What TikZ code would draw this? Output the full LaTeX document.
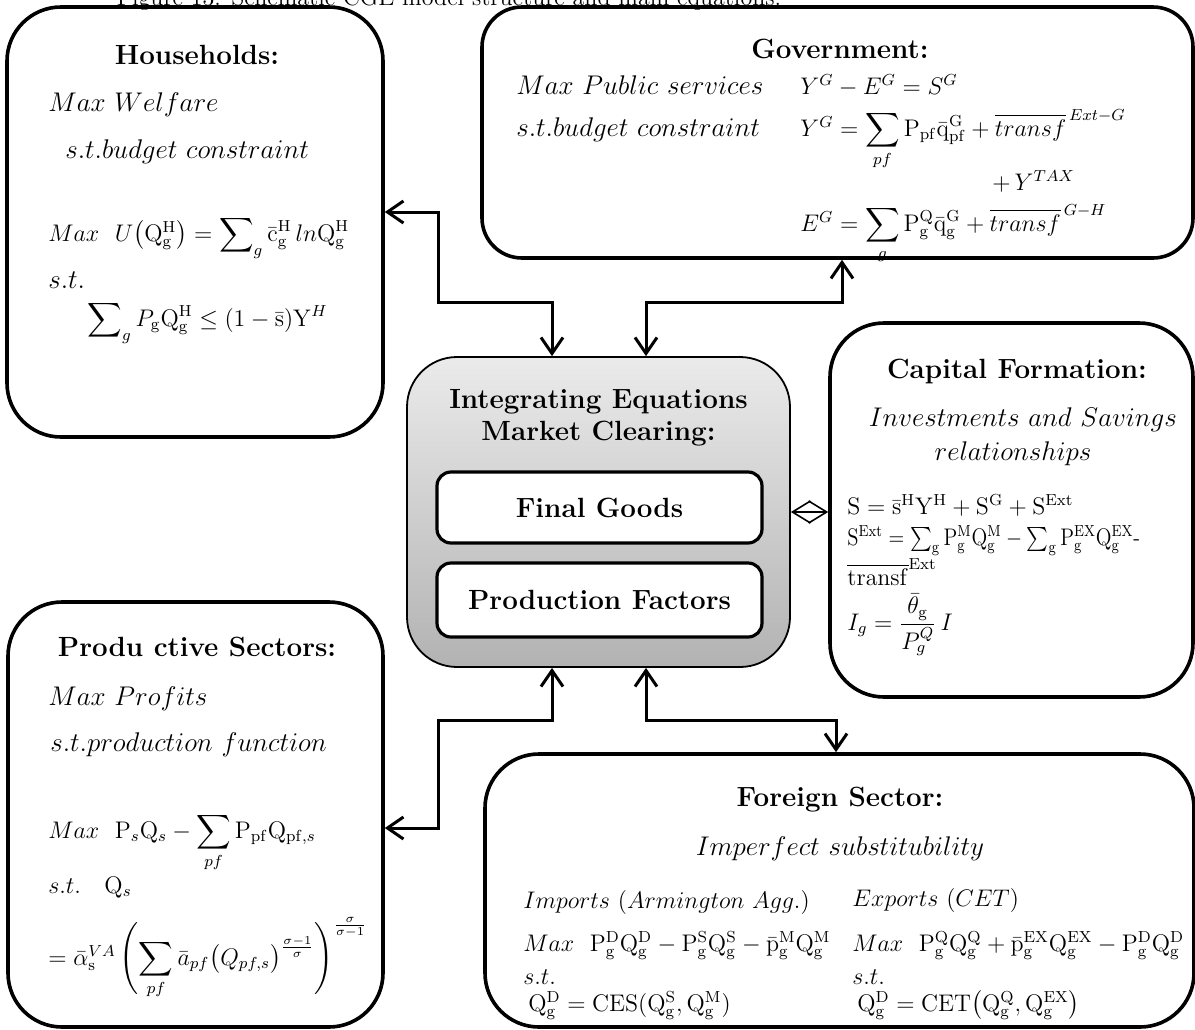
\RequirePackage{fix-cm}
\documentclass[tikz,border=0pt]{standalone}
\usepackage{amsmath}
\usepackage{amssymb}
\usetikzlibrary{arrows.meta, positioning, calc}

\newcommand{\up}[1]{\mathrm{#1}}

\begin{document}
\begin{tikzpicture}[x=0.5pt, y=-0.5pt,
  panel/.style={draw, line width=1.8pt, rounded corners=27pt, inner sep=0pt},
  hub/.style={draw, line width=0.9pt, rounded corners=25pt, top color=black!8, bottom color=black!30, inner sep=0pt},
  slot/.style={draw, fill=white, line width=1.6pt, rounded corners=7pt, inner sep=0pt, minimum width=162.5pt, font=\fontsize{13.9}{16}\selectfont\bfseries},
  head/.style={font=\fontsize{13.9}{16}\selectfont\bfseries, anchor=base, inner sep=0pt},
  txt/.style={font=\fontsize{13.5}{16}\selectfont, anchor=base west, inner sep=0pt},
  eq/.style={font=\fontsize{12}{14}\selectfont, anchor=base west, inner sep=0pt},
  link/.style={line width=1.5pt, {Straight Barb[length=8pt,width=11pt]}-{Straight Barb[length=8pt,width=11pt]}}]
  \useasboundingbox (0,0) rectangle (1195,1029);

  % Caption (cut at the top)
  \node[font=\fontsize{12}{14}\selectfont, anchor=base] (cap0) at (449,5) {Figure 13: Schematic CGE model structure and main equations.};

  % Boxes
  \node[panel, minimum width=188pt, minimum height=215pt] (hh) at (195,222) {};
  \node[panel, rounded corners=20pt, minimum width=355.5pt, minimum height=125.5pt] (gov) at (837.5,132.5) {};
  \node[hub, minimum width=191.5pt, minimum height=155pt] (mkt) at (598.5,512) {};
  \node[panel, minimum width=181.5pt, minimum height=187pt] (cap) at (1011.5,510) {};
  \node[panel, minimum width=187.5pt, minimum height=212.5pt] (ps) at (195.5,814.5) {};
  \node[panel, minimum width=354.5pt, minimum height=136.5pt] (fs) at (839.5,890.5) {};

  % Market clearing
  \node[head] (mkt1) at (598.5,408) {Integrating Equations};
  \node[head] (mkt2) at (598.5,440) {Market Clearing:};
  \node[slot, minimum height=35.5pt] (fg) at (599.5,507.5) {Final Goods};
  \node[slot, minimum height=37pt] (pf) at (599.5,600) {Production Factors};

  % Households
  \node[head] (hh0) at (197,64) {Households:};
  \node[txt] (hh1) at (48,111) {$Max\ Welfare$};
  \node[txt] (hh2) at (65,158) {$s.t.budget\ constraint$};
  \node[eq] (hh3) at (48,241) {$Max\ \ U\bigl(\up{Q}^{\up{H}}_{\up{g}}\bigr)=\displaystyle\sum\nolimits_{g}\bar{\up{c}}^{\up{H}}_{\up{g}}\,ln\up{Q}^{\up{H}}_{\up{g}}$};
  \node[txt] (hh4) at (48,288) {$s.t.$};
  \node[eq] (hh5) at (87,326) {$\displaystyle\sum\nolimits_{g}P_{\up{g}}\up{Q}^{\up{H}}_{\up{g}}\le(1-\bar{\up{s}})\up{Y}^{H}$};

  % Government
  \node[head] (gov0) at (840,58) {Government:};
  \node[txt] (gov1) at (516,94) {$Max\ Public\ services$};
  \node[txt] (gov2) at (516,136) {$s.t.budget\ constraint$};
  \node[eq] (gov3) at (800,94) {$Y^{G}-E^{G}=S^{G}$};
  \node[eq] (gov4) at (800,136) {$Y^{G}=\displaystyle\sum_{pf}\up{P}_{\up{pf}}\bar{\up{q}}^{\up{G}}_{\up{pf}}+\overline{transf}^{\,Ext-G}$};
  \node[eq] (gov5) at (992,190) {$+\,Y^{TAX}$};
  \node[eq] (gov6) at (800,231) {$E^{G}=\displaystyle\sum_{g}\up{P}^{\up{Q}}_{\up{g}}\bar{\up{q}}^{\up{G}}_{\up{g}}+\overline{transf}^{\,G-H}$};

  % Capital formation
  \node[head] (cap1) at (1017,378) {Capital Formation:};
  \node[txt, anchor=base] (cap2) at (1023,426) {$Investments\ and\ Savings$};
  \node[txt, anchor=base] (cap3) at (1013,460) {$relationships$};
  \node[eq] (cap4) at (847,514) {$\up{S}=\bar{\up{s}}^{\up{H}}\up{Y}^{\up{H}}+\up{S}^{\up{G}}+\up{S}^{\up{Ext}}$};
  \node[eq] (cap5) at (847,545) {\scalebox{0.86}[1]{$\up{S}^{\up{Ext}}=\sum\nolimits_{\up{g}}\up{P}^{\up{M}}_{\up{g}}\up{Q}^{\up{M}}_{\up{g}}-\sum\nolimits_{\up{g}}\up{P}^{\up{EX}}_{\up{g}}\up{Q}^{\up{EX}}_{\up{g}}$-}};
  \node[eq] (cap6) at (847,585) {$\overline{\up{transf}}^{\up{Ext}}$};
  \node[eq] (cap7) at (847,630) {$I_{g}=\dfrac{\bar{\theta}_{\up{g}}}{P^{Q}_{g}}\,I$};

  % Productive sectors
  \node[head] (ps0) at (197,656) {Produ ctive Sectors:};
  \node[txt] (ps1) at (48,705) {$Max\ Profits$};
  \node[txt] (ps2) at (50,751) {$s.t.production\ function$};
  \node[eq] (ps3) at (48,838) {$Max\ \ \up{P}_{s}\up{Q}_{s}-\displaystyle\sum_{pf}\up{P}_{\up{pf}}\up{Q}_{\up{pf},s}$};
  \node[eq] (ps4) at (48,893) {$s.t.\ \ \ \up{Q}_{s}$};
  \node[eq] (ps5) at (48,965) {$=\bar{\alpha}^{VA}_{\up{s}}\left(\displaystyle\sum_{pf}\bar{a}_{pf}\bigl(Q_{pf,s}\bigr)^{\frac{\sigma-1}{\sigma}}\right)^{\frac{\sigma}{\sigma-1}}$};

  % Foreign sector
  \node[head] (fs0) at (840,806) {Foreign Sector:};
  \node[txt, anchor=base] (fs1) at (840,855) {$Imperfect\ substitubility$};
  \node[eq] (fs2) at (523,908) {$Imports\ (Armington\ Agg.)$};
  \node[eq] (fs3) at (852,906) {$Exports\ (CET)$};
  \node[eq] (fs4) at (523,951) {$Max\ \ \up{P}^{\up{D}}_{\up{g}}\up{Q}^{\up{D}}_{\up{g}}-\up{P}^{\up{S}}_{\up{g}}\up{Q}^{\up{S}}_{\up{g}}-\bar{\up{p}}^{\up{M}}_{\up{g}}\up{Q}^{\up{M}}_{\up{g}}$};
  \node[eq] (fs5) at (852,951) {$Max\ \ \up{P}^{\up{Q}}_{\up{g}}\up{Q}^{\up{Q}}_{\up{g}}+\bar{\up{p}}^{\up{EX}}_{\up{g}}\up{Q}^{\up{EX}}_{\up{g}}-\up{P}^{\up{D}}_{\up{g}}\up{Q}^{\up{D}}_{\up{g}}$};
  \node[eq] (fs6) at (523,984) {$s.t.$};
  \node[eq] (fs7) at (852,984) {$s.t.$};
  \node[eq] (fs8) at (528,1011) {$\up{Q}^{\up{D}}_{\up{g}}=\up{CES}(\up{Q}^{\up{S}}_{\up{g}},\up{Q}^{\up{M}}_{\up{g}})$};
  \node[eq] (fs9) at (857,1011) {$\up{Q}^{\up{D}}_{\up{g}}=\up{CET}\bigl(\up{Q}^{\up{Q}}_{\up{g}},\up{Q}^{\up{EX}}_{\up{g}}\bigr)$};

  % Connectors
  \coordinate (hhbend) at (438,302);
  \coordinate (govbend) at (842,302);
  \coordinate (psbend) at (438,720);
  \coordinate (fsbend) at (836,720);
  \draw[link] ([yshift=5pt]hh.east) -| (hhbend) -| ([xshift=-23.25pt]mkt.north);
  \draw[link] ([xshift=23.75pt]mkt.north) |- (govbend) -- (govbend |- gov.south);
  \draw[link] ([yshift=-6.75pt]ps.east) -| (psbend) -| ([xshift=-23.25pt]mkt.south);
  \draw[link] ([xshift=23.75pt]mkt.south) |- (fsbend) -- (fsbend |- fs.north);
  \draw[line width=0.8pt, {Straight Barb[length=9pt,width=11pt]}-{Straight Barb[length=9pt,width=11pt]}] (mkt.east) -- (mkt.east -| cap.west);
\end{tikzpicture}
\end{document}
